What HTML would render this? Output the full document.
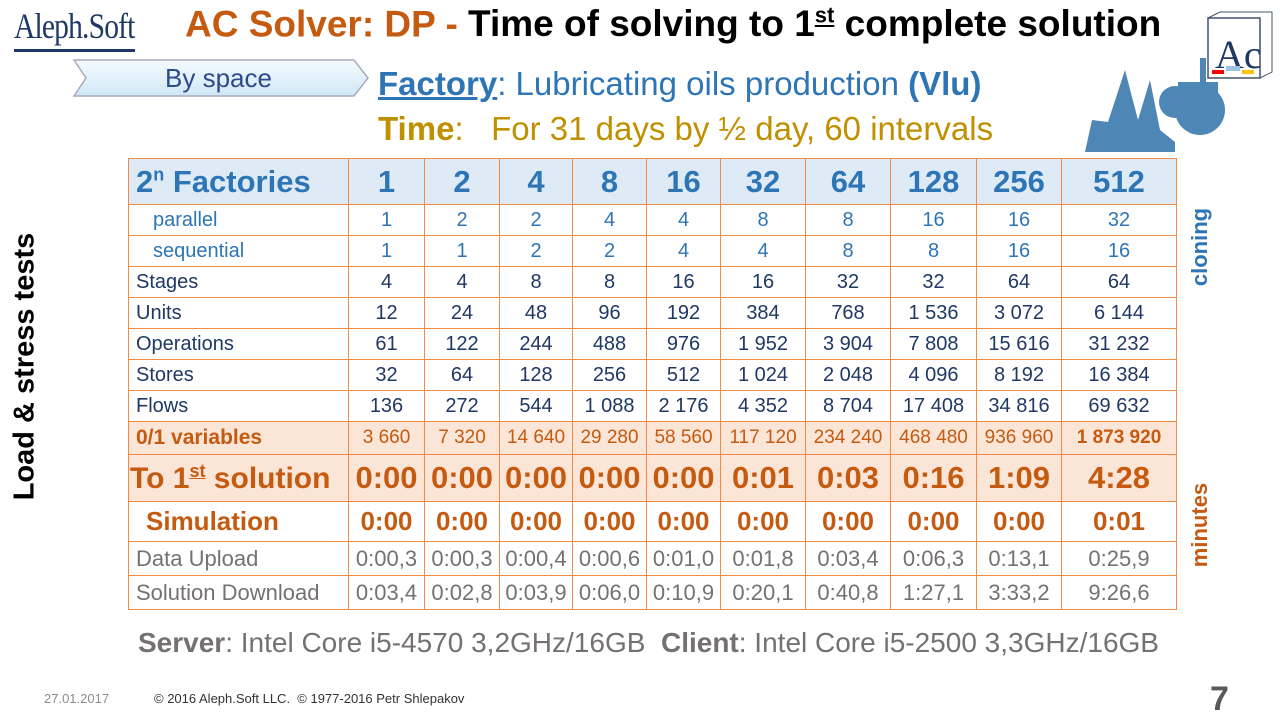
<!DOCTYPE html>
<html><head><meta charset="utf-8"><style>
body{margin:0;width:1280px;height:720px;background:#fff;position:relative;overflow:hidden;font-family:"Liberation Sans",sans-serif}
.a{position:absolute;white-space:nowrap}
table{position:absolute;left:128px;top:158px;border-collapse:collapse;table-layout:fixed}
td{border:1.5px solid #F08A45;text-align:center;padding:0;white-space:nowrap;overflow:hidden;color:#1F3864;font-size:20px}
td.l{text-align:left;padding-left:7px}
tr.h td{background:#DEEBF7;color:#2E75B6;font-weight:bold;font-size:31px;height:45px}
tr.b td{color:#2E75B6}
tr.r td{height:30px}
tr.o td{background:#FBE5D6;color:#C55A11}
tr.g td{color:#767171;font-size:22px}
tr.v td{font-size:19px}
tr.t td{font-size:31px;font-weight:bold}
tr.s td{color:#C55A11;font-weight:bold;font-size:26px}
</style></head><body>
<div class="a" style="left:14px;top:5px;font-family:'Liberation Serif',serif;font-size:36px;color:#1F3864;transform:scaleX(0.82);transform-origin:left;letter-spacing:-1px">Aleph.Soft</div>
<div class="a" style="left:14px;top:49px;width:121px;height:3px;background:#1F3864"></div>
<div class="a" style="left:185px;top:3px;font-size:37px;font-weight:bold;color:#C55A11">AC Solver: DP - <span style="color:#000">Time of solving to 1<sup style="font-size:22px;text-decoration:underline">st</sup> complete solution</span></div>
<svg class="a" style="left:72px;top:58px" width="300" height="42"><defs><linearGradient id="g" x1="0" y1="0" x2="0" y2="1"><stop offset="0" stop-color="#f4fbff"/><stop offset="1" stop-color="#cfe8f6"/></linearGradient></defs><polygon points="2,2 282,2 296,20 282,38 2,38 14,20" fill="url(#g)" stroke="#aab" stroke-width="1.5"/></svg>
<div class="a" style="left:165px;top:63px;font-size:26px;color:#2F4A8A">By space</div>
<div class="a" style="left:378px;top:65px;font-size:33px;color:#2E75B6"><b style="text-decoration:underline">Factory</b>: Lubricating oils production <b>(Vlu)</b></div>
<div class="a" style="left:378px;top:110px;font-size:33px;color:#BF9000"><b>Time</b>:&nbsp;&nbsp;&nbsp;For 31 days by ½ day, 60 intervals</div>
<svg class="a" style="left:1080px;top:10px" width="200" height="145"><rect x="128" y="8" width="52" height="60" fill="#fff" stroke="#44546A" stroke-width="1.5"/><polyline points="128,8 140,2 192,2 192,62 180,68" fill="none" stroke="#44546A"/><text x="135" y="58" font-family="Liberation Serif" font-size="40" fill="#1F3864">Ac</text><rect x="146" y="56" width="14" height="5" fill="#9DC3E6"/><rect x="132" y="60" width="12" height="4" fill="red"/><rect x="162" y="60" width="12" height="4" fill="#FFC000"/><g fill="#4E86B5"><path d="M5,142 L12,110 L28,112 L45,60 L58,110 L70,70 L80,120 L95,132 L95,142Z"/><circle cx="120" cy="100" r="25"/><circle cx="95" cy="92" r="16"/><rect x="120" y="48" width="6" height="40"/><rect x="98" y="72" width="40" height="12"/></g></svg>
<div class="a" style="left:-125px;top:350px;font-size:29px;font-weight:bold;color:#000;transform:rotate(-90deg);width:300px;text-align:center">Load &amp; stress tests</div>
<div class="a" style="left:1150px;top:234px;font-size:22px;font-weight:bold;color:#2E75B6;transform:rotate(-90deg);width:100px;text-align:center">cloning</div>
<div class="a" style="left:1150px;top:512px;font-size:22px;font-weight:bold;color:#C55A11;transform:rotate(-90deg);width:100px;text-align:center">minutes</div>
<table>
<colgroup><col style="width:220px"><col style="width:76px"><col style="width:75px"><col style="width:73px"><col style="width:74px"><col style="width:74px"><col style="width:85px"><col style="width:85px"><col style="width:86px"><col style="width:85px"><col style="width:115px"></colgroup>
<tr class="h"><td class="l">2<sup style="font-size:18px">n</sup> Factories</td><td>1</td><td>2</td><td>4</td><td>8</td><td>16</td><td>32</td><td>64</td><td>128</td><td>256</td><td>512</td></tr>
<tr class="r b"><td class="l" style="padding-left:24px">parallel</td><td>1</td><td>2</td><td>2</td><td>4</td><td>4</td><td>8</td><td>8</td><td>16</td><td>16</td><td>32</td></tr>
<tr class="r b"><td class="l" style="padding-left:24px">sequential</td><td>1</td><td>1</td><td>2</td><td>2</td><td>4</td><td>4</td><td>8</td><td>8</td><td>16</td><td>16</td></tr>
<tr class="r"><td class="l">Stages</td><td>4</td><td>4</td><td>8</td><td>8</td><td>16</td><td>16</td><td>32</td><td>32</td><td>64</td><td>64</td></tr>
<tr class="r"><td class="l">Units</td><td>12</td><td>24</td><td>48</td><td>96</td><td>192</td><td>384</td><td>768</td><td>1 536</td><td>3 072</td><td>6 144</td></tr>
<tr class="r"><td class="l">Operations</td><td>61</td><td>122</td><td>244</td><td>488</td><td>976</td><td>1 952</td><td>3 904</td><td>7 808</td><td>15 616</td><td>31 232</td></tr>
<tr class="r"><td class="l">Stores</td><td>32</td><td>64</td><td>128</td><td>256</td><td>512</td><td>1 024</td><td>2 048</td><td>4 096</td><td>8 192</td><td>16 384</td></tr>
<tr class="r"><td class="l">Flows</td><td>136</td><td>272</td><td>544</td><td>1 088</td><td>2 176</td><td>4 352</td><td>8 704</td><td>17 408</td><td>34 816</td><td>69 632</td></tr>
<tr class="o v" style="height:33px"><td class="l" style="font-weight:bold;font-size:21px">0/1 variables</td><td>3 660</td><td>7 320</td><td>14 640</td><td>29 280</td><td>58 560</td><td>117 120</td><td>234 240</td><td>468 480</td><td>936 960</td><td style="font-weight:bold">1 873 920</td></tr>
<tr class="o t" style="height:47px"><td style="text-align:left;padding-left:1px;font-size:30px">To 1<sup style="font-size:18px;text-decoration:underline">st</sup> solution</td><td>0:00</td><td>0:00</td><td>0:00</td><td>0:00</td><td>0:00</td><td>0:01</td><td>0:03</td><td>0:16</td><td>1:09</td><td>4:28</td></tr>
<tr class="s" style="height:40px"><td class="l" style="padding-left:17px">Simulation</td><td>0:00</td><td>0:00</td><td>0:00</td><td>0:00</td><td>0:00</td><td>0:00</td><td>0:00</td><td>0:00</td><td>0:00</td><td>0:01</td></tr>
<tr class="g" style="height:34px"><td class="l">Data Upload</td><td>0:00,3</td><td>0:00,3</td><td>0:00,4</td><td>0:00,6</td><td>0:01,0</td><td>0:01,8</td><td>0:03,4</td><td>0:06,3</td><td>0:13,1</td><td>0:25,9</td></tr>
<tr class="g" style="height:34px"><td class="l">Solution Download</td><td>0:03,4</td><td>0:02,8</td><td>0:03,9</td><td>0:06,0</td><td>0:10,9</td><td>0:20,1</td><td>0:40,8</td><td>1:27,1</td><td>3:33,2</td><td>9:26,6</td></tr>
</table>
<div class="a" style="left:138px;top:627px;font-size:28px;color:#767171"><b>Server</b>: Intel Core i5-4570 3,2GHz/16GB&nbsp;&nbsp;<b>Client</b>: Intel Core i5-2500 3,3GHz/16GB</div>
<div class="a" style="left:44px;top:691px;font-size:13px;color:#8c8c8c">27.01.2017</div>
<div class="a" style="left:154px;top:691px;font-size:13px;color:#333">© 2016 Aleph.Soft LLC.&nbsp; © 1977-2016 Petr Shlepakov</div>
<div class="a" style="left:1210px;top:680px;font-size:34px;font-weight:bold;color:#595959">7</div>
</body></html>
